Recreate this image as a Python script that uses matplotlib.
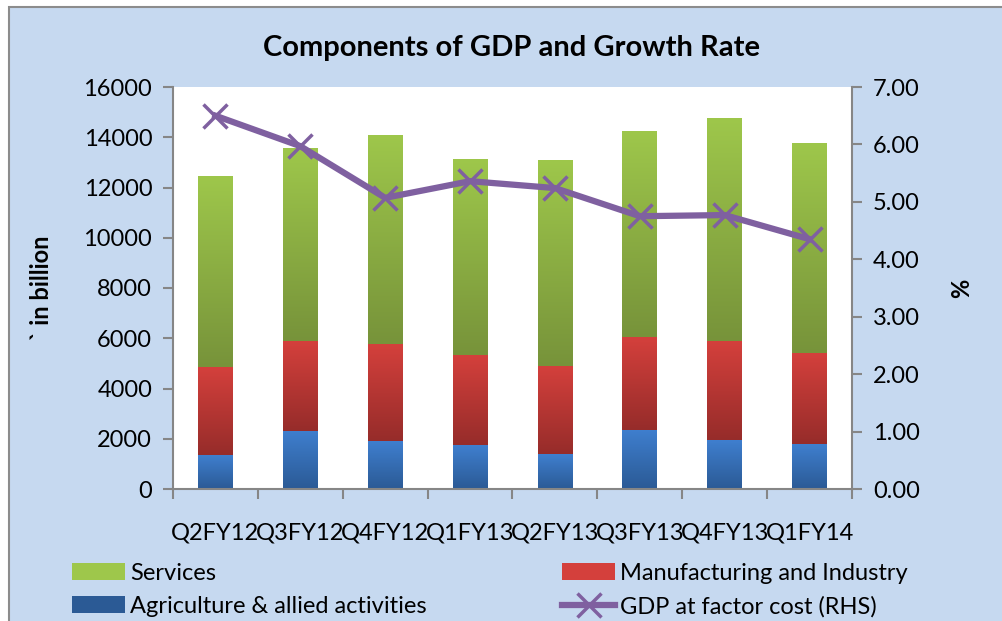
import numpy as np
import matplotlib
matplotlib.use("Agg")
from matplotlib import pyplot as plt
from matplotlib.patches import Rectangle
from matplotlib.colors import LinearSegmentedColormap

plt.rcParams['font.family'] = ['Lato', 'DejaVu Sans']

quarters = ["Q2FY12", "Q3FY12", "Q4FY12", "Q1FY13", "Q2FY13", "Q3FY13", "Q4FY13", "Q1FY14"]
agriculture = [1350, 2310, 1910, 1750, 1390, 2350, 1950, 1790]
manufacturing = [3500, 3580, 3860, 3580, 3500, 3700, 3940, 3620]
services = [7570, 7680, 8280, 7800, 8160, 8160, 8840, 8320]
gdp_growth = [6.50, 5.97, 5.07, 5.36, 5.24, 4.75, 4.77, 4.35]

# gradient top / bottom colours per series
grad = {
    "agri": ("#3f7fcf", "#2b5a95"),
    "manu": ("#d4403c", "#962c2a"),
    "serv": ("#9ec74b", "#77933a"),
}

BG = "#c6d9f0"
FS = 17
fig = plt.figure(figsize=(10.03, 6.21), dpi=100, facecolor="white")
fig.patches.append(Rectangle((9 / 1003, -0.1), 1.2, 1 - 7 / 621 + 0.1,
                             transform=fig.transFigure, facecolor=BG,
                             edgecolor="#8c8c8c", linewidth=1.5, zorder=-10))

ax = fig.add_axes([173 / 1003, 1 - 489 / 621, (852 - 173) / 1003, (489 - 87) / 621])
ax.set_facecolor("white")

x = np.arange(len(quarters))
w = 0.41
agri = np.array(agriculture)
manu = np.array(manufacturing)

b1 = ax.bar(x, agri, w, color=grad["agri"][1], label="Agriculture & allied activities")
b2 = ax.bar(x, manu, w, bottom=agri, color=grad["manu"][0], label="Manufacturing and Industry")
b3 = ax.bar(x, services, w, bottom=agri + manu, color=grad["serv"][0], label="Services")


def paint_gradient(bars, top, bottom):
    cmap = LinearSegmentedColormap.from_list("g", [bottom, top])
    g = np.linspace(0, 1, 256).reshape(-1, 1)
    for r in bars:
        x0, y0 = r.get_x(), r.get_y()
        ax.imshow(g, cmap=cmap, origin="lower", aspect="auto", zorder=2,
                  extent=[x0, x0 + r.get_width(), y0, y0 + r.get_height()])


paint_gradient(b1, *grad["agri"])
paint_gradient(b2, *grad["manu"])
paint_gradient(b3, *grad["serv"])

ax.set_xlim(-0.5, len(quarters) - 0.5)
ax.set_ylim(0, 16000)
ax.set_yticks(range(0, 16001, 2000))
ax.set_xticks(x)
ax.set_xticklabels(quarters)
ax.set_xticks(np.arange(-0.5, len(quarters), 1), minor=True)
ax.tick_params(axis="x", which="major", length=0, pad=24, labelsize=FS)
ax.tick_params(axis="x", which="minor", length=7, width=1.5, color="#868686")
ax.tick_params(axis="y", length=7, width=1.5, color="#868686", labelsize=FS, pad=8)
for s in ["top", "right"]:
    ax.spines[s].set_visible(False)
for s in ["left", "bottom"]:
    ax.spines[s].set_color("#868686")
    ax.spines[s].set_linewidth(1.5)
ax.set_ylabel("` in billion", fontsize=FS, fontweight="bold", labelpad=22)

ax2 = ax.twinx()
line, = ax2.plot(x, gdp_growth, color="#7f60a0", linewidth=4.5, marker="x",
                 markersize=17, markeredgewidth=2.5, label="GDP at factor cost (RHS)")
ax2.set_ylim(0, 7)
ax2.set_yticks(np.arange(0, 7.01, 1))
ax2.set_yticklabels([f"{v:.2f}" for v in np.arange(0, 7.01, 1)])
ax2.tick_params(axis="y", length=7, width=1.5, color="#868686", labelsize=FS, pad=8)
for s in ["top", "left", "bottom"]:
    ax2.spines[s].set_visible(False)
ax2.spines["right"].set_color("#868686")
ax2.spines["right"].set_linewidth(1.5)
ax2.set_ylabel("%", fontsize=FS, fontweight="bold", labelpad=22)

fig.text(512 / 1003, 1 - 48 / 621, "Components of GDP and Growth Rate",
         ha="center", va="center", fontsize=21, fontweight="bold")

leg = fig.legend([b3, b1, b2, line],
                 ["Services", "Agriculture & allied activities",
                  "Manufacturing and Industry", "GDP at factor cost (RHS)"],
                 ncol=2, loc="upper left", bbox_to_anchor=(72 / 1003, 1 - 563 / 621),
                 frameon=False, fontsize=FS, handlelength=2.25, handleheight=0.7,
                 handletextpad=0.2, columnspacing=5.75, labelspacing=0.5,
                 borderaxespad=0, borderpad=0)

fig.savefig("out.png", dpi=100, facecolor=fig.get_facecolor())
